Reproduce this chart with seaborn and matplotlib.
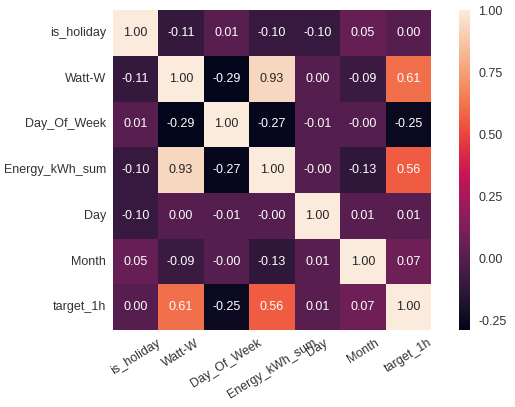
import numpy as np
import pandas as pd
import matplotlib
matplotlib.use("Agg")
import matplotlib.pyplot as plt
import seaborn as sns

labels = ["is_holiday", "Watt-W", "Day_Of_Week", "Energy_kWh_sum", "Day", "Month", "target_1h"]
row_is_holiday = [1.00, -0.11, 0.01, -0.10, -0.10, 0.05, 0.00]
row_watt = [-0.11, 1.00, -0.29, 0.93, 0.00, -0.09, 0.61]
row_dow = [0.01, -0.29, 1.00, -0.27, -0.01, -0.003, -0.25]
row_energy = [-0.10, 0.93, -0.27, 1.00, -0.003, -0.13, 0.56]
row_day = [-0.10, 0.00, -0.01, -0.003, 1.00, 0.01, 0.01]
row_month = [0.05, -0.09, -0.003, -0.13, 0.01, 1.00, 0.07]
row_target = [0.00, 0.61, -0.25, 0.56, 0.01, 0.07, 1.00]

corr = pd.DataFrame([row_is_holiday, row_watt, row_dow, row_energy, row_day, row_month, row_target],
                    index=labels, columns=labels)

sns.set_style("white")
plt.rcParams['font.family'] = ['Liberation Sans', 'DejaVu Sans']

fig = plt.figure(figsize=(5.15, 4.07), dpi=100)
ax = fig.add_axes([0.219, 0.189, 0.618, 0.786])
cax = fig.add_axes([0.891, 0.189, 0.021, 0.786])
sns.heatmap(corr, annot=True, fmt=".2f", ax=ax, cbar_ax=cax,
            annot_kws={"size": 9}, cbar_kws={"ticks": [-0.25, 0, 0.25, 0.5, 0.75, 1.0]})
ax.set_xticklabels(labels, rotation=32, fontsize=9, color="#333333")
ax.set_yticklabels(labels, rotation=0, fontsize=9, color="#333333")
ax.tick_params(length=0, pad=5)
cax.tick_params(labelsize=9, length=0, colors="#333333", pad=6)
cax.yaxis.set_major_formatter(matplotlib.ticker.FormatStrFormatter("%.2f"))
fig.savefig("out.png", dpi=100)
